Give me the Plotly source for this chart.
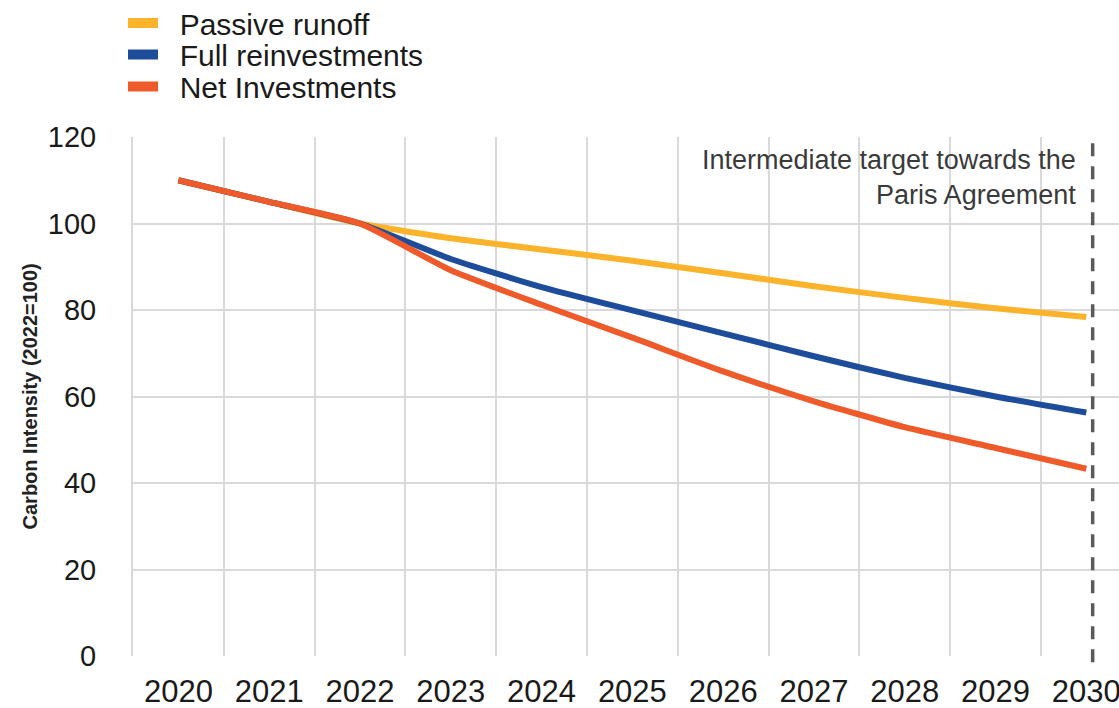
import plotly.graph_objects as go

# Projected portfolio carbon intensity, indexed to 2022 = 100
years = ["2020", "2021", "2022", "2023", "2024", "2025", "2026", "2027", "2028", "2029", "2030"]
passive_runoff = [110.0, 105.0, 100.0, 96.6, 94.0, 91.4, 88.5, 85.5, 82.8, 80.4, 78.4]
full_reinvestments = [110.0, 105.0, 100.0, 91.8, 85.3, 79.9, 74.6, 69.3, 64.3, 60.0, 56.3]
net_investments = [110.0, 105.0, 100.0, 89.2, 81.2, 73.6, 65.8, 58.9, 52.9, 48.1, 43.3]

series_names = ["Passive runoff", "Full reinvestments", "Net Investments"]
series_values = [passive_runoff, full_reinvestments, net_investments]
series_colors = ["#FBB32B", "#1D4C9B", "#EE5A2A"]

y_ticks = [0, 20, 40, 60, 80, 100, 120]
target_year_pos = 10.07  # dashed marker just right of the 2030 category centre

FONT = "Liberation Sans, Arial, sans-serif"
W, H = 1119, 708

fig = go.Figure()

for name, vals, col in zip(series_names, series_values, series_colors):
    fig.add_trace(go.Scatter(
        x=years, y=vals, mode="lines", name=name,
        line=dict(color=col, width=6, shape="spline", smoothing=0.5),
        showlegend=False, legendgroup=name, hoverinfo="x+y+name",
    ))

# one legend per series so each row can be placed on its own
legend_ids = ["legend", "legend2", "legend3"]
legend_rows_px = [23, 54.5, 86.5]
for name, col, lid in zip(series_names, series_colors, legend_ids):
    fig.add_trace(go.Scatter(
        x=[None], y=[None], mode="lines", name="\u00a0\u00a0" + name,
        line=dict(color=col, width=10), legendgroup=name, showlegend=True,
        legend=lid,
    ))

legend_style = dict(
    xref="container", yref="container", x=123 / W,
    xanchor="left", yanchor="middle",
    font=dict(family=FONT, size=30, color="#1a1a1a"),
    bgcolor="rgba(0,0,0,0)", borderwidth=0, itemwidth=30,
)
legends = {
    lid: dict(legend_style, y=1 - row / H)
    for lid, row in zip(legend_ids, legend_rows_px)
}

fig.add_shape(
    type="line", xref="x", yref="paper",
    x0=target_year_pos, x1=target_year_pos, y0=-0.012, y1=1.0,
    line=dict(color="#5a5a5a", width=3.5, dash="13px,10px"),
)

fig.add_annotation(
    x=target_year_pos, y=120, xref="x", yref="y",
    text="Intermediate target towards the<br>Paris Agreement",
    showarrow=False, xanchor="right", yanchor="top", align="right",
    xshift=-15, yshift=-6,
    font=dict(family=FONT, size=27, color="#3a3a3a"),
)

fig.add_annotation(
    x=-0.1045, y=0.5, xref="paper", yref="paper",
    text="<b>Carbon Intensity (2022=100)</b>", textangle=-90,
    showarrow=False, xanchor="center", yanchor="middle",
    font=dict(family=FONT, size=20, color="#222222"),
)

fig.update_layout(
    width=W, height=H,
    margin=dict(l=133, r=0, t=137, b=52, autoexpand=False),
    paper_bgcolor="white", plot_bgcolor="white",
    font=dict(family=FONT, color="#1a1a1a"),
    showlegend=True,
    **legends,
    xaxis=dict(
        type="category", categoryorder="array", categoryarray=years,
        range=[-0.5, 10.36], tickson="boundaries",
        showgrid=True, gridcolor="#D9D9D9", gridwidth=2,
        ticks="", ticklen=0, ticklabelstandoff=14,
        tickfont=dict(family=FONT, size=31, color="#1a1a1a"),
        zeroline=False, showline=False, fixedrange=True,
    ),
    yaxis=dict(
        range=[0, 120], tickvals=y_ticks, ticktext=[str(v) for v in y_ticks],
        showgrid=True, gridcolor="#D9D9D9", gridwidth=2,
        ticks="", ticklabelstandoff=29,
        tickfont=dict(family=FONT, size=29, color="#1a1a1a"),
        zeroline=False, showline=True, linecolor="#D9D9D9", linewidth=2,
        fixedrange=True,
    ),
)

fig.write_html("out.html")
